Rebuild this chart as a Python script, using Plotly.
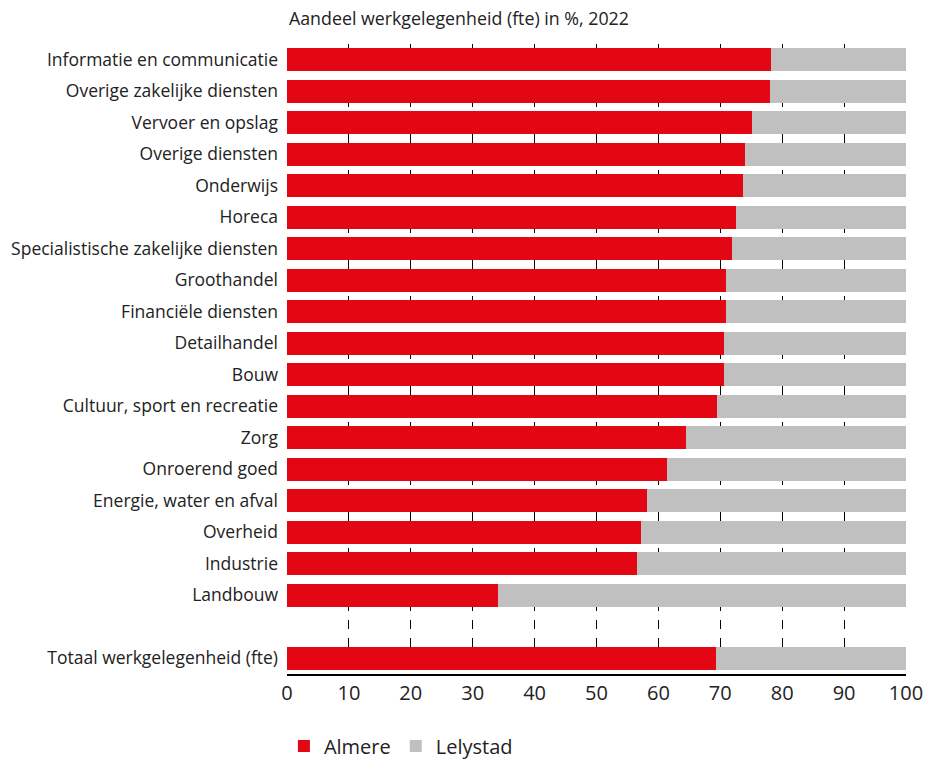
import plotly.graph_objects as go

categories = [
    "Informatie en communicatie",
    "Overige zakelijke diensten",
    "Vervoer en opslag",
    "Overige diensten",
    "Onderwijs",
    "Horeca",
    "Specialistische zakelijke diensten",
    "Groothandel",
    "Financiële diensten",
    "Detailhandel",
    "Bouw",
    "Cultuur, sport en recreatie",
    "Zorg",
    "Onroerend goed",
    "Energie, water en afval",
    "Overheid",
    "Industrie",
    "Landbouw",
    " ",
    "Totaal werkgelegenheid (fte)",
]
almere = [78.2, 78.0, 75.1, 74.0, 73.7, 72.5, 71.9, 70.9, 70.9, 70.6, 70.6, 69.5,
          64.5, 61.4, 58.2, 57.2, 56.5, 34.1, None, 69.3]
lelystad = [None if a is None else round(100 - a, 1) for a in almere]

title_text = "Aandeel werkgelegenheid (fte) in %, 2022"
x_ticks = list(range(0, 101, 10))

RED = "#E30613"
GREY = "#C0C0C0"
FONT = "'Open Sans', sans-serif"
TXT = "#222222"

W, H = 932, 761
L, R, T, B = 287, 26, 44, 87
plot_h = H - T - B

fig = go.Figure()
fig.add_trace(go.Bar(y=categories, x=almere, orientation="h", name="Almere",
                     marker=dict(color=RED, line=dict(width=0))))
fig.add_trace(go.Bar(y=categories, x=lelystad, orientation="h", name="Lelystad",
                     marker=dict(color=GREY, line=dict(width=0))))

fig.update_layout(
    barmode="stack",
    bargap=0.27,
    width=W,
    height=H,
    margin=dict(l=L, r=R, t=T, b=B, autoexpand=False),
    paper_bgcolor="white",
    plot_bgcolor="white",
    font=dict(family=FONT, color=TXT),
    showlegend=True,
    legend=dict(orientation="h", x=-0.005, xanchor="left",
                y=-72 / plot_h, yanchor="middle",
                font=dict(size=20, family=FONT, color=TXT),
                itemwidth=30, traceorder="normal"),
    annotations=[dict(text=title_text, x=0, xref="paper", xanchor="left",
                      y=1.0 + 26 / plot_h, yref="paper", yanchor="middle",
                      showarrow=False,
                      font=dict(size=17.8, family=FONT, color=TXT))],
)

fig.update_xaxes(
    range=[0, 100],
    tickvals=x_ticks,
    ticktext=[str(v) for v in x_ticks],
    showgrid=True,
    gridcolor="black",
    griddash="dash",
    gridwidth=1,
    zeroline=False,
    showline=True,
    linecolor="black",
    linewidth=1.5,
    ticks="",
    tickfont=dict(size=20, family=FONT, color=TXT),
    fixedrange=True,
)
fig.update_yaxes(
    categoryorder="array",
    categoryarray=categories,
    autorange="reversed",
    showgrid=False,
    ticks="",
    ticklabelstandoff=8,
    tickfont=dict(size=17.5, family=FONT, color=TXT),
    fixedrange=True,
)

fig.write_html(
    "out.html",
    config={"displayModeBar": False},
    post_script="document.body.style.margin='0px';",
)
